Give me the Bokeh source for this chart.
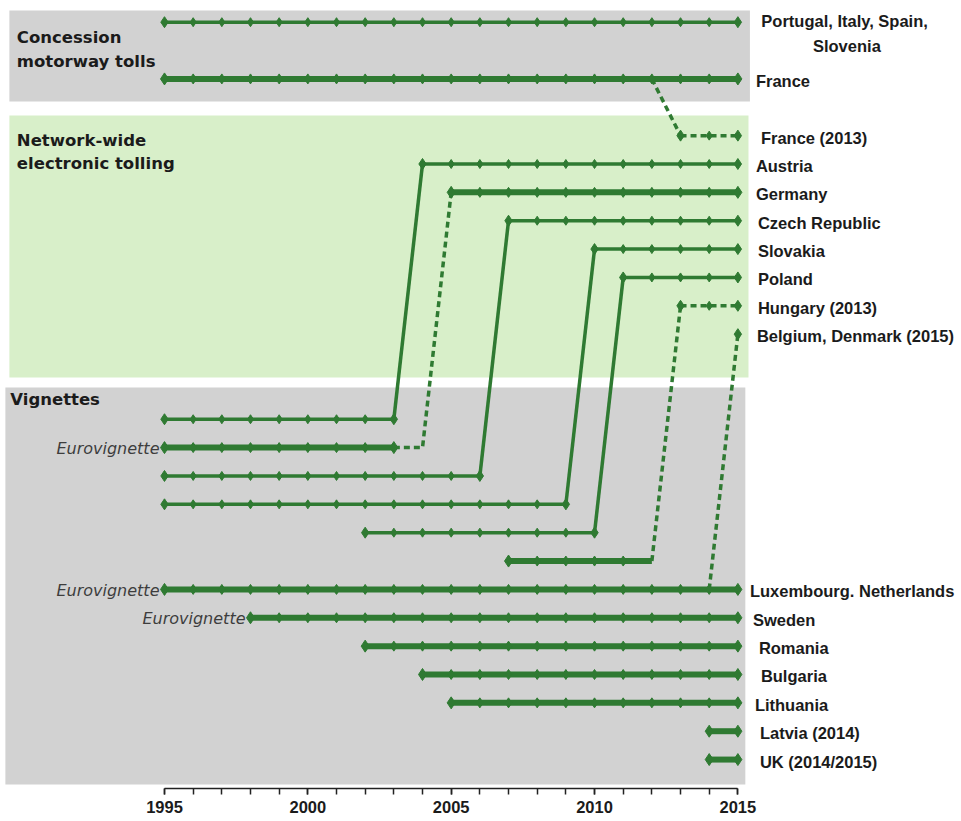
from bokeh.plotting import figure
from bokeh.models import Range1d, FixedTicker, LinearAxis
from bokeh.embed import file_html
from bokeh.resources import INLINE
from bokeh.core.properties import value

# ---------------- data ----------------
# rows (0 = top), start / end years of each scheme line
seg_row = [0, 2, 4, 5, 6, 7, 8, 9, 10, 11,
           14, 15, 16, 17, 18, 19, 20, 21, 22, 23, 24, 25, 26]
seg_start = [1995, 1995, 2013, 2004, 2005, 2007, 2010, 2011, 2013, 2015,
             1995, 1995, 1995, 1995, 2002, 2007, 1995, 1998, 2002, 2004, 2005, 2014, 2014]
seg_end = [2015, 2015, 2015, 2015, 2015, 2015, 2015, 2015, 2015, 2015,
           2003, 2003, 2006, 2009, 2010, 2012, 2015, 2015, 2015, 2015, 2015, 2015, 2015]
seg_thick = [False, True, False, False, True, False, False, False, False, False,
             False, True, False, False, False, True, True, True, True, True, True, True, True]
seg_dashed = [False, False, True, False, False, False, False, False, True, False,
              False, False, False, False, False, False, False, False, False, False, False, False, False]
seg_end_marker = [True] * 15 + [False] + [True] * 7

# transitions between schemes (polyline points: years, rows)
conn_x = [[2012, 2013], [2003, 2004], [2003, 2004, 2005], [2006, 2007],
          [2009, 2010], [2010, 2011], [2012, 2013], [2014, 2015]]
conn_y = [[2, 4], [14, 5], [15, 15, 6], [16, 7], [17, 8], [18, 9], [19, 10], [20, 11]]
conn_dashed = [True, False, True, False, False, False, True, True]

# country labels
label_text = ["France", "France (2013)", "Austria",
              "Germany", "Czech Republic", "Slovakia", "Poland", "Hungary (2013)",
              "Belgium, Denmark (2015)", "Luxembourg. Netherlands", "Sweden", "Romania",
              "Bulgaria", "Lithuania", "Latvia (2014)", "UK (2014/2015)"]
label_row = [2, 4, 5, 6, 7, 8, 9, 10, 11, 20, 21, 22, 23, 24, 25, 26]
label_shift = [18, 23, 18, 18, 20, 20, 20, 20, 19, 12, 15, 21, 23, 17, 22, 22]
multi_label = ["Portugal, Italy,  Spain,", "Slovenia"]
multi_row = [-0.12, 0.78]

# Eurovignette members
euro_row = [15, 20, 21]
euro_year = [1995, 1995, 1998]

# section bands
band_names = ["Concession motorway tolls", "Network-wide electronic tolling", "Vignettes"]
band_top = [-0.41, 3.29, 12.88]
band_bottom = [2.80, 12.53, 26.88]

year_ticks = [1995, 2000, 2005, 2010, 2015]
year_minor = list(range(1995, 2016))

# ---------------- styling ----------------
GREEN = "#2f7a32"
GREY = "#d2d2d2"
LGREEN = "#d8efc9"
TXT = "#1b1b1b"
DASH = "6 4"

p = figure(frame_width=961, frame_height=788, output_backend="svg", toolbar_location=None,
           x_range=Range1d(1989.28, 2022.80), y_range=Range1d(27.02, -0.765),
           min_border=0, outline_line_color=None, x_axis_type=None, y_axis_type=None)
p.background_fill_color = "white"
p.border_fill_color = "white"
p.grid.visible = False

# bands
band_left = [1989.59, 1989.59, 1989.45]
band_right = [2015.42, 2015.37, 2015.26]
p.quad(left=band_left, right=band_right, top=band_top, bottom=band_bottom,
       fill_color=[GREY, LGREEN, GREY], line_color=None)

# connectors
for xs, ys, d in zip(conn_x, conn_y, conn_dashed):
    p.line(xs, ys, line_color=GREEN, line_width=3.5,
           line_dash=DASH if d else "solid")

# segments + markers
for r, s, e, th, d, em in zip(seg_row, seg_start, seg_end, seg_thick, seg_dashed, seg_end_marker):
    lw = 6 if th else 3.5
    if e > s:
        p.line([s, e], [r, r], line_color=GREEN, line_width=lw,
               line_dash=DASH if d else "solid")
    years = list(range(s, e + 1))
    inner = years[1:-1]
    if inner:
        p.scatter(inner, [r] * len(inner), marker="diamond", size=10 if th else 9,
                  fill_color=GREEN, line_color=GREEN)
    ends = [years[0]]
    if len(years) > 1 and em:
        ends.append(years[-1])
    p.scatter(ends, [r] * len(ends), marker="diamond", size=12 if th else 11,
              fill_color=GREEN, line_color=GREEN)

# country labels
for t, r, sh in zip(label_text, label_row, label_shift):
    p.text(x=[2015], y=[r], text=[t], x_offset=sh, y_offset=2,
           text_baseline="middle", text_align="left", text_color=TXT,
           text_font=value("Liberation Sans"), text_font_style="bold", text_font_size="16.5px")
p.text(x=[2015] * 2, y=multi_row, text=multi_label, x_offset=109, y_offset=2,
       text_baseline="middle", text_align="center", text_color=TXT,
       text_font=value("Liberation Sans"), text_font_style="bold", text_font_size="16.5px")

# Eurovignette labels
p.text(x=euro_year, y=euro_row, text=["Eurovignette"] * len(euro_row), x_offset=-5, y_offset=1,
       text_baseline="middle", text_align="right", text_color="#3d3d3d",
       text_font=value("DejaVu Sans"), text_font_style="italic", text_font_size="16px")

# section titles
title_lines = ["Concession", "motorway tolls", "Network-wide", "electronic tolling", "Vignettes"]
title_rows = [0.53, 1.37, 4.18, 4.98, 13.30]
title_x = [1989.85, 1989.85, 1989.85, 1989.85, 1989.62]
p.text(x=title_x, y=title_rows, text=title_lines, text_baseline="middle", text_align="left",
       text_color=TXT, text_font=value("DejaVu Sans"), text_font_style="bold",
       text_font_size="16.5px")

# x axis
ax = LinearAxis(ticker=FixedTicker(ticks=year_ticks, minor_ticks=year_minor),
                bounds=(1995, 2015))
ax.axis_line_color = "#222222"
ax.axis_line_width = 1.5
ax.major_tick_in = 0
ax.major_tick_out = 6
ax.minor_tick_in = 0
ax.minor_tick_out = 6
ax.major_tick_line_color = "#222222"
ax.minor_tick_line_color = "#222222"
ax.major_tick_line_width = 1.5
ax.minor_tick_line_width = 1.5
ax.major_label_standoff = 6
ax.major_label_text_font = "Liberation Sans"
ax.major_label_text_font_style = "bold"
ax.major_label_text_font_size = "16.5px"
ax.major_label_text_color = TXT
p.add_layout(ax, "below")

open("out.html", "w").write(file_html(p, INLINE))
